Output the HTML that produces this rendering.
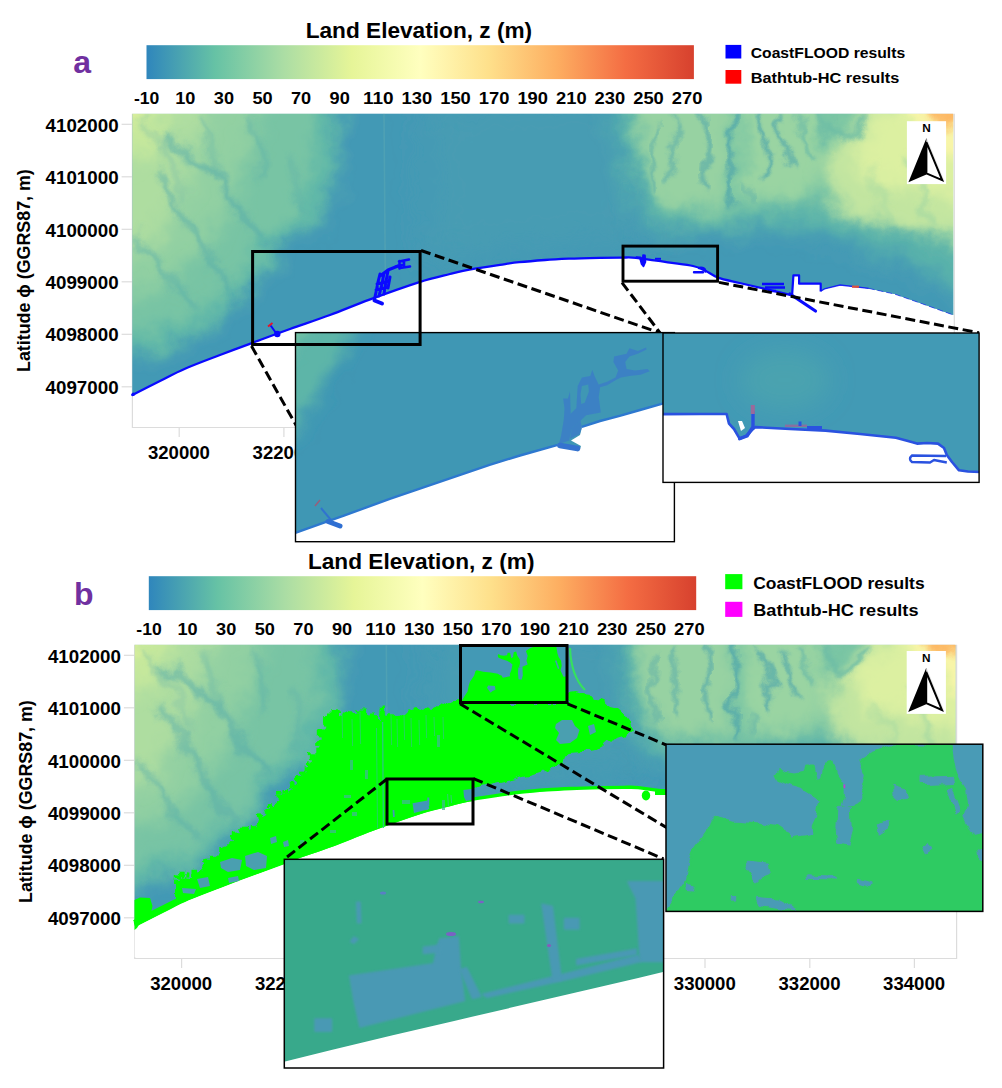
<!DOCTYPE html>
<html><head><meta charset="utf-8"><title>Figure</title>
<style>html,body{margin:0;padding:0;background:#fff;}body{width:1002px;height:1088px;overflow:hidden;font-family:"Liberation Sans",sans-serif;}svg{display:block;position:absolute;left:0;top:0;}</style>
</head><body>
<svg width="1002" height="1088" viewBox="0 0 1002 1088">
<defs>
<linearGradient id="cbar" x1="0" x2="1" y1="0" y2="0"><stop offset="0.0000" stop-color="#2f86bc"/><stop offset="0.1250" stop-color="#66c2a5"/><stop offset="0.2500" stop-color="#abdda4"/><stop offset="0.3750" stop-color="#e6f598"/><stop offset="0.5000" stop-color="#ffffbf"/><stop offset="0.6250" stop-color="#fee08b"/><stop offset="0.7500" stop-color="#fdae61"/><stop offset="0.8750" stop-color="#f46d43"/><stop offset="1.0000" stop-color="#d7412e"/></linearGradient>
<filter id="b1" x="-50%" y="-50%" width="200%" height="200%"><feGaussianBlur stdDeviation="1"/></filter>
<filter id="b2" x="-50%" y="-50%" width="200%" height="200%"><feGaussianBlur stdDeviation="2"/></filter>
<filter id="b3" x="-50%" y="-50%" width="200%" height="200%"><feGaussianBlur stdDeviation="3"/></filter>
<filter id="b4" x="-50%" y="-50%" width="200%" height="200%"><feGaussianBlur stdDeviation="4"/></filter>
<filter id="b5" x="-50%" y="-50%" width="200%" height="200%"><feGaussianBlur stdDeviation="5"/></filter>
<filter id="b6" x="-50%" y="-50%" width="200%" height="200%"><feGaussianBlur stdDeviation="6"/></filter>
<filter id="b7" x="-50%" y="-50%" width="200%" height="200%"><feGaussianBlur stdDeviation="7"/></filter>
<filter id="b8" x="-50%" y="-50%" width="200%" height="200%"><feGaussianBlur stdDeviation="8"/></filter>
<filter id="b9" x="-50%" y="-50%" width="200%" height="200%"><feGaussianBlur stdDeviation="9"/></filter>
<filter id="b10" x="-50%" y="-50%" width="200%" height="200%"><feGaussianBlur stdDeviation="10"/></filter>
<filter id="b12" x="-50%" y="-50%" width="200%" height="200%"><feGaussianBlur stdDeviation="12"/></filter>
<filter id="b14" x="-50%" y="-50%" width="200%" height="200%"><feGaussianBlur stdDeviation="14"/></filter>
<filter id="b16" x="-50%" y="-50%" width="200%" height="200%"><feGaussianBlur stdDeviation="16"/></filter>
</defs>
<rect width="1002" height="1088" fill="#fff"/>
<text x="418.9" y="38.4" font-family="Liberation Sans, sans-serif" font-weight="bold" font-size="21.5" text-anchor="middle" textLength="226.5" lengthAdjust="spacingAndGlyphs">Land Elevation, z (m)</text>
<text x="73.2" y="72.6" font-family="Liberation Sans, sans-serif" font-weight="bold" font-size="32" fill="#7030a0">a</text>
<rect x="146.5" y="45.2" width="547.4" height="33.9" fill="url(#cbar)"/>
<text x="146.7" y="103.7" font-family="Liberation Sans, sans-serif" font-weight="bold" font-size="17" text-anchor="middle" textLength="25.4" lengthAdjust="spacingAndGlyphs">-10</text>
<text x="185.3" y="103.7" font-family="Liberation Sans, sans-serif" font-weight="bold" font-size="17" text-anchor="middle" textLength="20.2" lengthAdjust="spacingAndGlyphs">10</text>
<text x="223.9" y="103.7" font-family="Liberation Sans, sans-serif" font-weight="bold" font-size="17" text-anchor="middle" textLength="20.2" lengthAdjust="spacingAndGlyphs">30</text>
<text x="262.5" y="103.7" font-family="Liberation Sans, sans-serif" font-weight="bold" font-size="17" text-anchor="middle" textLength="20.2" lengthAdjust="spacingAndGlyphs">50</text>
<text x="301.1" y="103.7" font-family="Liberation Sans, sans-serif" font-weight="bold" font-size="17" text-anchor="middle" textLength="20.2" lengthAdjust="spacingAndGlyphs">70</text>
<text x="339.7" y="103.7" font-family="Liberation Sans, sans-serif" font-weight="bold" font-size="17" text-anchor="middle" textLength="20.2" lengthAdjust="spacingAndGlyphs">90</text>
<text x="378.3" y="103.7" font-family="Liberation Sans, sans-serif" font-weight="bold" font-size="17" text-anchor="middle" textLength="30.6" lengthAdjust="spacingAndGlyphs">110</text>
<text x="416.9" y="103.7" font-family="Liberation Sans, sans-serif" font-weight="bold" font-size="17" text-anchor="middle" textLength="30.6" lengthAdjust="spacingAndGlyphs">130</text>
<text x="455.5" y="103.7" font-family="Liberation Sans, sans-serif" font-weight="bold" font-size="17" text-anchor="middle" textLength="30.6" lengthAdjust="spacingAndGlyphs">150</text>
<text x="494.1" y="103.7" font-family="Liberation Sans, sans-serif" font-weight="bold" font-size="17" text-anchor="middle" textLength="30.6" lengthAdjust="spacingAndGlyphs">170</text>
<text x="532.7" y="103.7" font-family="Liberation Sans, sans-serif" font-weight="bold" font-size="17" text-anchor="middle" textLength="30.6" lengthAdjust="spacingAndGlyphs">190</text>
<text x="571.3" y="103.7" font-family="Liberation Sans, sans-serif" font-weight="bold" font-size="17" text-anchor="middle" textLength="30.6" lengthAdjust="spacingAndGlyphs">210</text>
<text x="609.9" y="103.7" font-family="Liberation Sans, sans-serif" font-weight="bold" font-size="17" text-anchor="middle" textLength="30.6" lengthAdjust="spacingAndGlyphs">230</text>
<text x="648.5" y="103.7" font-family="Liberation Sans, sans-serif" font-weight="bold" font-size="17" text-anchor="middle" textLength="30.6" lengthAdjust="spacingAndGlyphs">250</text>
<text x="687.1" y="103.7" font-family="Liberation Sans, sans-serif" font-weight="bold" font-size="17" text-anchor="middle" textLength="30.6" lengthAdjust="spacingAndGlyphs">270</text>
<path d="M132.4,113.7 V427.5 H954.3 V113.7" fill="none" stroke="#dcdcdc" stroke-width="1.2"/>
<line x1="121.6" x2="132.4" y1="124.3" y2="124.3" stroke="#dcdcdc" stroke-width="1.2"/>
<text x="118.6" y="132.0" font-family="Liberation Sans, sans-serif" font-weight="bold" font-size="17.8" text-anchor="end" textLength="73" lengthAdjust="spacingAndGlyphs">4102000</text>
<line x1="121.6" x2="132.4" y1="176.8" y2="176.8" stroke="#dcdcdc" stroke-width="1.2"/>
<text x="118.6" y="184.3" font-family="Liberation Sans, sans-serif" font-weight="bold" font-size="17.8" text-anchor="end" textLength="73" lengthAdjust="spacingAndGlyphs">4101000</text>
<line x1="121.6" x2="132.4" y1="229.3" y2="229.3" stroke="#dcdcdc" stroke-width="1.2"/>
<text x="118.6" y="236.7" font-family="Liberation Sans, sans-serif" font-weight="bold" font-size="17.8" text-anchor="end" textLength="73" lengthAdjust="spacingAndGlyphs">4100000</text>
<line x1="121.6" x2="132.4" y1="281.8" y2="281.8" stroke="#dcdcdc" stroke-width="1.2"/>
<text x="118.6" y="289.1" font-family="Liberation Sans, sans-serif" font-weight="bold" font-size="17.8" text-anchor="end" textLength="73" lengthAdjust="spacingAndGlyphs">4099000</text>
<line x1="121.6" x2="132.4" y1="334.3" y2="334.3" stroke="#dcdcdc" stroke-width="1.2"/>
<text x="118.6" y="341.4" font-family="Liberation Sans, sans-serif" font-weight="bold" font-size="17.8" text-anchor="end" textLength="73" lengthAdjust="spacingAndGlyphs">4098000</text>
<line x1="121.6" x2="132.4" y1="386.8" y2="386.8" stroke="#dcdcdc" stroke-width="1.2"/>
<text x="118.6" y="393.8" font-family="Liberation Sans, sans-serif" font-weight="bold" font-size="17.8" text-anchor="end" textLength="73" lengthAdjust="spacingAndGlyphs">4097000</text>
<line x1="179.2" x2="179.2" y1="427.5" y2="437.0" stroke="#dcdcdc" stroke-width="1.2"/>
<text x="178.9" y="459.3" font-family="Liberation Sans, sans-serif" font-weight="bold" font-size="17.8" text-anchor="middle" textLength="62" lengthAdjust="spacingAndGlyphs">320000</text>
<line x1="283.9" x2="283.9" y1="427.5" y2="437.0" stroke="#dcdcdc" stroke-width="1.2"/>
<text x="283.6" y="459.3" font-family="Liberation Sans, sans-serif" font-weight="bold" font-size="17.8" text-anchor="middle" textLength="62" lengthAdjust="spacingAndGlyphs">322000</text>
<line x1="388.6" x2="388.6" y1="427.5" y2="437.0" stroke="#dcdcdc" stroke-width="1.2"/>
<line x1="493.4" x2="493.4" y1="427.5" y2="437.0" stroke="#dcdcdc" stroke-width="1.2"/>
<line x1="598.0" x2="598.0" y1="427.5" y2="437.0" stroke="#dcdcdc" stroke-width="1.2"/>
<line x1="702.8" x2="702.8" y1="427.5" y2="437.0" stroke="#dcdcdc" stroke-width="1.2"/>
<line x1="807.5" x2="807.5" y1="427.5" y2="437.0" stroke="#dcdcdc" stroke-width="1.2"/>
<line x1="912.1" x2="912.1" y1="427.5" y2="437.0" stroke="#dcdcdc" stroke-width="1.2"/>
<text transform="translate(29.8,270.6) rotate(-90)" font-family="Liberation Sans, sans-serif" font-weight="bold" font-size="18.5" text-anchor="middle" textLength="202.8" lengthAdjust="spacingAndGlyphs">Latitude ϕ (GGRS87, m)</text>
<clipPath id="landa"><polygon points="132.4,113.7 953.3,113.7 953.3,315.0 920.6,303.2 894.6,294.1 868.7,288.4 840.1,285.0 824.5,288.9 820.7,291.5 820.7,283.7 799.1,283.7 799.1,275.4 793.4,275.4 792.1,295.4 764.9,288.9 739.6,283.0 718.0,277.6 705.0,270.5 693.0,266.0 667.8,262.3 636.0,257.8 621.0,257.6 600.0,257.8 569.0,258.7 545.0,260.0 519.2,262.2 500.0,264.8 469.3,269.6 450.0,274.0 419.4,282.1 369.5,299.6 330.0,315.0 290.0,329.0 252.5,342.8 220.0,355.0 185.0,368.7 160.0,381.0 132.4,395.0"/></clipPath>
<filter id="dispa" filterUnits="userSpaceOnUse" x="92.4" y="73.7" width="900.9" height="400"><feTurbulence type="fractalNoise" baseFrequency="0.035" numOctaves="4" seed="5" result="n"/><feDisplacementMap in="SourceGraphic" in2="n" scale="26" xChannelSelector="R" yChannelSelector="G"/></filter>
<g clip-path="url(#landa)">
<rect x="132.4" y="113.7" width="820.9" height="320" fill="#4399b5"/>
<g filter="url(#dispa)">
<rect x="92.4" y="73.7" width="900.9" height="400" fill="#4399b5"/>
<polygon points="430.0,100.0 640.0,100.0 640.0,240.0 520.0,250.0 430.0,260.0" fill="#479cb3" fill-opacity="1" filter="url(#b16)"/>
<polygon points="100.0,90.0 340.0,90.0 336.0,190.0 314.0,228.0 278.0,247.0 271.0,267.0 243.0,293.0 219.0,322.0 175.0,346.0 100.0,366.0" fill="#60b8a8" fill-opacity="1" filter="url(#b8)"/>
<polygon points="100.0,90.0 318.0,90.0 312.0,180.0 290.0,222.0 262.0,240.0 255.0,262.0 228.0,288.0 200.0,312.0 160.0,330.0 100.0,338.0" fill="#78c4a4" fill-opacity="1" filter="url(#b8)"/>
<polygon points="100.0,90.0 262.0,90.0 250.0,150.0 232.0,200.0 212.0,235.0 190.0,265.0 160.0,285.0 100.0,300.0" fill="#92d0a2" fill-opacity="1" filter="url(#b10)"/>
<polygon points="100.0,90.0 215.0,90.0 198.0,150.0 180.0,205.0 150.0,245.0 100.0,262.0" fill="#aedda0" fill-opacity="1" filter="url(#b10)"/>
<polygon points="100.0,90.0 180.0,90.0 156.0,145.0 100.0,185.0" fill="#c6e89c" fill-opacity="1" filter="url(#b8)"/>
<polygon points="120.0,100.0 150.0,100.0 136.0,124.0 120.0,135.0" fill="#d8ee9c" fill-opacity="1" filter="url(#b5)"/>
<path d="M163.0,136.0 C167.5,139.7 181.3,152.0 190.0,158.0 C198.7,164.0 208.5,165.3 215.0,172.0 C221.5,178.7 224.2,190.2 229.0,198.0 C233.8,205.8 237.8,212.0 244.0,219.0 C250.2,226.0 262.3,236.5 266.0,240.0" fill="none" stroke="#55aaab" stroke-opacity="0.675" stroke-width="7" stroke-linecap="round" filter="url(#b3)"/>
<path d="M156.0,172.0 C160.3,179.0 173.3,200.2 182.0,214.0 C190.7,227.8 200.2,242.0 208.0,255.0 C215.8,268.0 225.5,285.8 229.0,292.0" fill="none" stroke="#55aaab" stroke-opacity="0.675" stroke-width="6" stroke-linecap="round" filter="url(#b3)"/>
<path d="M138.0,234.0 C142.3,240.2 154.5,258.8 164.0,271.0 C173.5,283.2 189.8,301.0 195.0,307.0" fill="none" stroke="#55aaab" stroke-opacity="0.675" stroke-width="5" stroke-linecap="round" filter="url(#b3)"/>
<path d="M250.0,120.0 C252.0,125.0 260.0,140.3 262.0,150.0 C264.0,159.7 262.0,173.3 262.0,178.0" fill="none" stroke="#55aaab" stroke-opacity="0.45" stroke-width="6" stroke-linecap="round" filter="url(#b3)"/>
<path d="M200.0,120.0 C202.3,125.0 210.3,140.8 214.0,150.0 C217.7,159.2 220.7,170.8 222.0,175.0" fill="none" stroke="#55aaab" stroke-opacity="0.45" stroke-width="5" stroke-linecap="round" filter="url(#b3)"/>
<path d="M290.0,160.0 C291.7,165.0 299.0,180.8 300.0,190.0 C301.0,199.2 296.7,210.8 296.0,215.0" fill="none" stroke="#55aaab" stroke-opacity="0.405" stroke-width="6" stroke-linecap="round" filter="url(#b3)"/>
<path d="M146.0,120.0 C150.0,126.7 163.3,146.7 170.0,160.0 C176.7,173.3 183.3,193.3 186.0,200.0" fill="none" stroke="#55aaab" stroke-opacity="0.36000000000000004" stroke-width="5" stroke-linecap="round" filter="url(#b3)"/>
<polygon points="612.0,90.0 990.0,90.0 990.0,302.0 953.0,287.0 890.0,256.0 820.0,233.0 745.0,231.0 690.0,233.0 642.0,226.0 626.0,180.0 616.0,130.0" fill="#5ab2aa" fill-opacity="1" filter="url(#b10)"/>
<polygon points="630.0,90.0 990.0,90.0 990.0,262.0 940.0,236.0 880.0,222.0 830.0,208.0 790.0,206.0 755.0,214.0 710.0,220.0 660.0,210.0 640.0,170.0" fill="#79c5a4" fill-opacity="1" filter="url(#b9)"/>
<polygon points="636.0,95.0 730.0,95.0 731.0,200.0 690.0,209.0 652.0,196.0 638.0,150.0" fill="#97d2a2" fill-opacity="1" filter="url(#b7)"/>
<polygon points="741.0,95.0 816.0,95.0 823.0,150.0 815.0,190.0 780.0,201.0 746.0,196.0" fill="#9ad4a2" fill-opacity="1" filter="url(#b7)"/>
<polygon points="822.0,160.0 850.0,128.0 872.0,95.0 990.0,95.0 990.0,245.0 950.0,234.0 900.0,228.0 850.0,215.0 826.0,192.0" fill="#c2e5a0" fill-opacity="1" filter="url(#b8)"/>
<polygon points="852.0,150.0 880.0,118.0 898.0,95.0 990.0,95.0 990.0,222.0 950.0,198.0 900.0,186.0 862.0,176.0" fill="#dcf0a1" fill-opacity="1" filter="url(#b8)"/>
<polygon points="896.0,95.0 990.0,95.0 990.0,175.0 942.0,152.0 916.0,126.0" fill="#f8f5a8" fill-opacity="1" filter="url(#b6)"/>
<polygon points="915.0,98.0 990.0,98.0 990.0,132.0 958.0,128.0 935.0,120.0" fill="#fdb863" fill-opacity="1" filter="url(#b5)"/>
<path d="M735.8,114.0 C735.3,118.2 734.0,131.0 733.0,139.0 C732.0,147.0 729.5,154.8 730.0,162.0 C730.5,169.2 735.3,174.7 735.8,182.0 C736.3,189.3 733.5,202.0 733.0,206.0" fill="none" stroke="#4fa6ab" stroke-opacity="1" stroke-width="4.5" stroke-linecap="round" filter="url(#b2)"/>
<path d="M756.0,116.0 C757.5,120.8 762.3,137.5 764.7,144.7 C767.1,151.9 770.5,153.4 770.5,159.0 C770.5,164.6 765.7,174.8 764.7,178.0" fill="none" stroke="#4fa6ab" stroke-opacity="1" stroke-width="4" stroke-linecap="round" filter="url(#b2)"/>
<path d="M782.0,116.0 C782.5,121.3 783.0,139.3 785.0,147.6 C787.0,155.9 792.2,162.9 793.7,166.0" fill="none" stroke="#4fa6ab" stroke-opacity="1" stroke-width="3.6" stroke-linecap="round" filter="url(#b2)"/>
<path d="M705.0,114.0 C705.5,118.3 708.3,131.5 708.0,140.0 C707.7,148.5 703.0,156.7 703.0,165.0 C703.0,173.3 707.2,185.8 708.0,190.0" fill="none" stroke="#4fa6ab" stroke-opacity="0.9900000000000001" stroke-width="3.4" stroke-linecap="round" filter="url(#b2)"/>
<path d="M672.0,118.0 C672.7,123.3 676.3,139.7 676.0,150.0 C675.7,160.3 671.0,175.0 670.0,180.0" fill="none" stroke="#4fa6ab" stroke-opacity="0.81" stroke-width="3.4" stroke-linecap="round" filter="url(#b2)"/>
<path d="M655.0,125.0 C654.2,130.8 650.0,149.2 650.0,160.0 C650.0,170.8 654.2,185.0 655.0,190.0" fill="none" stroke="#4fa6ab" stroke-opacity="0.7200000000000001" stroke-width="3.4" stroke-linecap="round" filter="url(#b2)"/>
<path d="M819.7,112.0 C821.2,115.5 825.0,128.0 828.4,133.0 C831.8,138.0 836.1,141.3 840.0,141.8 C843.9,142.3 847.2,140.0 851.5,136.0 C855.8,132.0 863.6,121.0 866.0,118.0" fill="none" stroke="#6cbca6" stroke-opacity="1" stroke-width="7" stroke-linecap="round" filter="url(#b3)"/>
<path d="M800.0,114.0 C801.0,118.0 803.5,131.0 806.0,138.0 C808.5,145.0 813.5,153.0 815.0,156.0" fill="none" stroke="#66b8a7" stroke-opacity="0.9" stroke-width="4" stroke-linecap="round" filter="url(#b2)"/>
<path d="M905.0,160.0 C907.8,165.0 917.5,179.7 922.0,190.0 C926.5,200.3 930.3,216.7 932.0,222.0" fill="none" stroke="#9ad4a2" stroke-opacity="0.81" stroke-width="5" stroke-linecap="round" filter="url(#b3)"/>
<path d="M870.0,170.0 C872.5,175.0 881.7,190.8 885.0,200.0 C888.3,209.2 889.2,220.8 890.0,225.0" fill="none" stroke="#9ad4a2" stroke-opacity="0.63" stroke-width="4" stroke-linecap="round" filter="url(#b3)"/>
<path d="M748.0,180.0 C748.7,183.3 751.3,196.7 752.0,200.0" fill="none" stroke="#4fa6ab" stroke-opacity="0.63" stroke-width="3" stroke-linecap="round" filter="url(#b2)"/>
</g>
<line x1="384.0" x2="385.5" y1="113.7" y2="300.0" stroke="#55a4b4" stroke-width="1.6" opacity="0.7"/>
</g>
<path d="M132.4,395.0 C137.0,392.7 151.2,385.4 160.0,381.0 C168.8,376.6 175.0,373.0 185.0,368.7 C195.0,364.4 208.8,359.3 220.0,355.0 C231.2,350.7 240.8,347.1 252.5,342.8 C264.2,338.5 277.1,333.6 290.0,329.0 C302.9,324.4 316.8,319.9 330.0,315.0 C343.2,310.1 354.6,305.1 369.5,299.6 C384.4,294.1 406.0,286.4 419.4,282.1 C432.8,277.8 441.7,276.1 450.0,274.0 C458.3,271.9 461.0,271.1 469.3,269.6 C477.6,268.1 491.7,266.0 500.0,264.8 C508.3,263.6 511.7,263.0 519.2,262.2 C526.7,261.4 536.7,260.6 545.0,260.0 C553.3,259.4 559.8,259.1 569.0,258.7 C578.2,258.3 591.3,258.0 600.0,257.8 C608.7,257.6 615.0,257.6 621.0,257.6 C627.0,257.6 628.2,257.0 636.0,257.8 C643.8,258.6 658.3,260.9 667.8,262.3 C677.3,263.7 686.8,264.6 693.0,266.0 C699.2,267.4 700.8,268.6 705.0,270.5 C709.2,272.4 712.2,275.5 718.0,277.6 C723.8,279.7 731.8,281.1 739.6,283.0 C747.4,284.9 756.1,286.8 764.9,288.9 C773.6,291.0 787.6,294.3 792.1,295.4" fill="none" stroke="#0a0aff" stroke-width="2.3" stroke-linecap="round"/>
<circle cx="133.3" cy="394.3" r="1.8" fill="#0a0aff"/>
<path d="M792.1,295.4 L793.4,275.4 L799.1,275.4 L799.1,283.7 L820.7,283.7 L820.7,291.5" fill="none" stroke="#0a0aff" stroke-width="2.2" stroke-linejoin="round"/>
<path d="M790,294 L815.5,311" fill="none" stroke="#0a0aff" stroke-width="3.2" stroke-linecap="round"/>
<path d="M762,284 h22 M765,287.5 h20 M768,291 h8" fill="none" stroke="#0a0aff" stroke-width="2.4"/>
<path d="M821,291 L824.5,288.9 L840.1,285 L868.7,288.4" fill="none" stroke="#0a0aff" stroke-width="1.3" opacity="0.85"/>
<path d="M868.7,288.4 L894.6,294.1 L920.6,303.2 L953.3,315" fill="none" stroke="#0a0aff" stroke-width="1" opacity="0.55" stroke-dasharray="6,3"/>
<rect x="852" y="285.6" width="7" height="2.2" fill="#e0503a"/>
<path d="M374.5,299 L376.5,290 L378,282 L380,274 M379,296 L382,284 L384,273 M384,294 L386,281 L388,271 M388,288 L390,277 M380,276 L388,270 L393,268 L398,266 M376,290 L388,287 M377,284 L389,281" fill="none" stroke="#0a0aff" stroke-width="3" stroke-linecap="round" stroke-linejoin="round"/>
<path d="M396,266.5 L402,265 M399,261.5 L409,259.5 M400,268 L410,266.5 M399.5,261 V268.5 M404,261 V267" fill="none" stroke="#0a0aff" stroke-width="2.6" stroke-linecap="round" stroke-linejoin="round"/>
<path d="M374.5,300.5 L382,303.5" fill="none" stroke="#0a0aff" stroke-width="4" stroke-linecap="round"/>
<path d="M271,326 L276,333" fill="none" stroke="#0a0aff" stroke-width="2" stroke-linecap="round"/>
<circle cx="277.3" cy="334" r="3.2" fill="#0a0aff"/>
<path d="M268,326.5 L272.5,323" fill="none" stroke="#e8102a" stroke-width="1.8"/>
<path d="M636.5,257 L640,258.5 L641.5,264 L643.5,266.5 L645.5,262 L645,255.2 L643,255 L642.6,259.5 L640.5,257.2 Z" fill="#0a0aff" stroke="#0a0aff" stroke-width="1.6" stroke-linejoin="round"/>
<path d="M694,272.2 H703 M699,268 Q705,267 705.5,271.5" fill="none" stroke="#0a0aff" stroke-width="2.4" stroke-linecap="round"/>
<path d="M655,258.8 h6" fill="none" stroke="#0a0aff" stroke-width="2"/>
<path d="M421,250.5 L660,332.8" stroke="#000" stroke-width="3" stroke-dasharray="10,4.6" fill="none"/>
<path d="M251.5,346 L340,503.5" stroke="#000" stroke-width="3" stroke-dasharray="10,4.6" fill="none"/>
<path d="M622,282.6 L660,332.8" stroke="#000" stroke-width="3" stroke-dasharray="10,4.6" fill="none"/>
<path d="M719,282.4 L979,332.8" stroke="#000" stroke-width="3" stroke-dasharray="10,4.6" fill="none"/>
<clipPath id="ci1"><rect x="295.5" y="332.6" width="378.9" height="209.1"/></clipPath>
<g clip-path="url(#ci1)">
<rect x="295.5" y="332.6" width="378.9" height="209.1" fill="#3f97b4"/>
<filter id="dispi1" filterUnits="userSpaceOnUse" x="280" y="320" width="140" height="160"><feTurbulence type="fractalNoise" baseFrequency="0.03" numOctaves="3" seed="3" result="n"/><feDisplacementMap in="SourceGraphic" in2="n" scale="22" xChannelSelector="R" yChannelSelector="G"/></filter>
<g filter="url(#dispi1)"><rect x="270" y="310" width="160" height="180" fill="#3f97b4"/>
<polygon points="280,320 362,320 338,362 316,398 298,430 280,446" fill="#5db5a8" filter="url(#b8)"/>
<polygon points="285,325 312,325 296,355 285,366" fill="#72c2a4" filter="url(#b5)"/>
</g>
<polygon points="290.0,535.0 296.0,532.7 324.0,522.7 343.9,515.7 389.8,498.8 439.7,481.8 489.6,464.8 520.0,455.5 557.8,444.8 566.0,447.0 579.8,449.5 581.0,446.0 571.0,440.5 580.0,435.0 581.8,428.0 581.8,426.8 600.0,421.0 619.7,415.8 640.0,410.0 661.6,403.8 680.0,398.0 680.0,545.0 290.0,545.0" fill="#fff"/>
<path d="M563.1,398.5 L567.9,398.5 L570.0,391.5 L570.7,413.8 L576.3,408.2 L577.7,385.9 L581.9,377.5 L590.3,376.1 L592.4,369.8 L594.5,376.1 L598.7,384.5 L607.1,381.7 L615.5,377.5 L618.2,370.5 L613.4,362.1 L614.1,356.5 L626.6,353.8 L629.4,348.2 L637.8,351.0 L646.2,347.5 L646.5,349.6 L637.8,353.8 L629.4,356.5 L625.2,362.1 L626.6,369.1 L635.0,370.5 L647.6,369.1 L649.7,371.2 L640.6,374.7 L629.4,376.1 L621.0,377.5 L616.8,379.6 L607.1,385.2 L600.1,387.3 L598.7,397.1 L600.8,412.4 L586.1,415.2 L580.5,420.8 L572.1,427.8 L570.0,436.2 L569.3,440.4 L558.9,443.9 L561.0,436.2 L563.8,419.4 L564.5,408.2 Z M581.9,385.9 L588.2,384.5 L588.9,391.5 L584.7,402.7 L581.2,404.1 L580.5,394.3 Z" fill-rule="evenodd" fill="#3a74cf" fill-opacity="0.62"/>
<path d="M572.1,427.8 L580.5,420.8 L581.9,427.8 L579.8,434.1 L570.0,438.7 Z" fill="#3a74cf" fill-opacity="0.62"/>
<path d="M290.0,535.0 L296.0,532.7 L324.0,522.7 L343.9,515.7 L389.8,498.8 L439.7,481.8 L489.6,464.8 L520.0,455.5 L557.8,444.8" fill="none" stroke="#2d78cf" stroke-width="2.4"/>
<path d="M581.8,426.8 L600.0,421.0 L619.7,415.8 L640.0,410.0 L661.6,403.8 L680.0,398.0" fill="none" stroke="#2d78cf" stroke-width="2.4"/>
<path d="M560,445.5 L577.5,448.6" fill="none" stroke="#3573cf" stroke-width="5.6" stroke-linecap="round"/>
<path d="M328,521.5 L340,526" fill="none" stroke="#2f6fd2" stroke-width="5" stroke-linecap="round"/>
<path d="M321,508 L331,520" fill="none" stroke="#2f6fd2" stroke-width="2" opacity="0.9"/>
<path d="M315,506 L320,500" fill="none" stroke="#b0506a" stroke-width="1.5" opacity="0.8"/>
</g>
<rect x="295.5" y="332.6" width="378.9" height="209.1" fill="none" stroke="#000" stroke-width="1.4"/>
<clipPath id="ci2"><rect x="663" y="333" width="316.1" height="149.4"/></clipPath>
<g clip-path="url(#ci2)">
<rect x="663" y="333" width="316.1" height="149.4" fill="#429ab5"/>
<ellipse cx="785" cy="380" rx="45" ry="30" fill="#4fa8ac" fill-opacity="0.6" filter="url(#b12)"/>
<polygon points="660.0,414.1 700.0,414.0 726.6,414.0 729.0,423.6 734.0,429.0 739.6,438.7 746.0,436.0 752.0,430.0 755.4,427.1 790.0,429.0 825.6,430.6 860.0,434.0 895.9,437.7 908.0,441.0 917.0,443.6 927.0,443.0 938.0,443.6 944.0,448.0 946.8,455.0 952.0,462.0 959.0,470.3 968.0,471.5 982.0,472.0 982.0,490.0 660.0,490.0" fill="#fff"/>
<path d="M660.0,414.1 L700.0,414.0 L726.6,414.0 L729.0,423.6 L734.0,429.0 L739.6,438.7 L746.0,436.0 L752.0,430.0 L755.4,427.1 L790.0,429.0 L825.6,430.6 L860.0,434.0 L895.9,437.7 L908.0,441.0 L917.0,443.6 L927.0,443.0 L938.0,443.6 L944.0,448.0 L946.8,455.0 L952.0,462.0 L959.0,470.3 L968.0,471.5 L982.0,472.0" fill="none" stroke="#2a52e0" stroke-width="2.6" stroke-linejoin="round"/>
<path d="M946,456 L912,455.5 Q908,459 912,462 L930,462.5 L934,460 L946.8,462.5" fill="#fff" stroke="#2a52e0" stroke-width="2.4" stroke-linejoin="round"/>
<path d="M739.6,438.7 L747,436 L753,427 L753,412" fill="none" stroke="#2a52e0" stroke-width="3.4" stroke-linecap="round" stroke-linejoin="round"/>
<path d="M738,421 L742,421 L745,428 L741,431 Z" fill="#fff"/>
<rect x="750.8" y="405" width="4" height="9" fill="#9a6a9a"/>
<rect x="785" y="424.6" width="22" height="2.4" fill="#8a6f9f"/>
<path d="M800,426 V421.5 M807,427.5 H822" fill="none" stroke="#2a52e0" stroke-width="3"/>
</g>
<rect x="663" y="333" width="316.1" height="149.4" fill="none" stroke="#000" stroke-width="1.4"/>
<rect x="252.6" y="251.5" width="167.5" height="93" fill="none" stroke="#000" stroke-width="3"/>
<rect x="623" y="246.1" width="94.6" height="35.1" fill="none" stroke="#000" stroke-width="2.9"/>
<rect x="725.5" y="44.9" width="15.8" height="13.6" fill="#0000ff"/>
<rect x="725.5" y="70" width="15.8" height="13.7" fill="#ff0000"/>
<text x="750.7" y="58.4" font-family="Liberation Sans, sans-serif" font-weight="bold" font-size="15" textLength="154.5" lengthAdjust="spacingAndGlyphs">CoastFLOOD results</text>
<text x="750.7" y="82.6" font-family="Liberation Sans, sans-serif" font-weight="bold" font-size="15" textLength="148.7" lengthAdjust="spacingAndGlyphs">Bathtub-HC results</text>
<rect x="906.9" y="121.2" width="39.2" height="62.9" fill="#fff"/>
<text x="926.4" y="131.7" font-family="Liberation Sans, sans-serif" font-weight="bold" font-size="11.8" text-anchor="middle">N</text>
<polygon points="926.4,138.2 908.4,182.2 926.4,174.4" fill="#000"/>
<polygon points="926.4,142.2 942.2,180.2 926.4,173.4" fill="#fff" stroke="#000" stroke-width="2" stroke-linejoin="miter"/>
<polygon points="926.4,138.2 944.1,181.3 926.4,173.4" fill="none" stroke="#000" stroke-width="0.1"/>
<text x="421.2" y="569.4" font-family="Liberation Sans, sans-serif" font-weight="bold" font-size="21.5" text-anchor="middle" textLength="226.5" lengthAdjust="spacingAndGlyphs">Land Elevation, z (m)</text>
<text x="73.9" y="604.5" font-family="Liberation Sans, sans-serif" font-weight="bold" font-size="32" fill="#7030a0">b</text>
<rect x="148.8" y="576.2" width="547.4" height="33.9" fill="url(#cbar)"/>
<text x="149.0" y="634.7" font-family="Liberation Sans, sans-serif" font-weight="bold" font-size="17" text-anchor="middle" textLength="25.4" lengthAdjust="spacingAndGlyphs">-10</text>
<text x="187.6" y="634.7" font-family="Liberation Sans, sans-serif" font-weight="bold" font-size="17" text-anchor="middle" textLength="20.2" lengthAdjust="spacingAndGlyphs">10</text>
<text x="226.2" y="634.7" font-family="Liberation Sans, sans-serif" font-weight="bold" font-size="17" text-anchor="middle" textLength="20.2" lengthAdjust="spacingAndGlyphs">30</text>
<text x="264.8" y="634.7" font-family="Liberation Sans, sans-serif" font-weight="bold" font-size="17" text-anchor="middle" textLength="20.2" lengthAdjust="spacingAndGlyphs">50</text>
<text x="303.4" y="634.7" font-family="Liberation Sans, sans-serif" font-weight="bold" font-size="17" text-anchor="middle" textLength="20.2" lengthAdjust="spacingAndGlyphs">70</text>
<text x="342.0" y="634.7" font-family="Liberation Sans, sans-serif" font-weight="bold" font-size="17" text-anchor="middle" textLength="20.2" lengthAdjust="spacingAndGlyphs">90</text>
<text x="380.6" y="634.7" font-family="Liberation Sans, sans-serif" font-weight="bold" font-size="17" text-anchor="middle" textLength="30.6" lengthAdjust="spacingAndGlyphs">110</text>
<text x="419.2" y="634.7" font-family="Liberation Sans, sans-serif" font-weight="bold" font-size="17" text-anchor="middle" textLength="30.6" lengthAdjust="spacingAndGlyphs">130</text>
<text x="457.8" y="634.7" font-family="Liberation Sans, sans-serif" font-weight="bold" font-size="17" text-anchor="middle" textLength="30.6" lengthAdjust="spacingAndGlyphs">150</text>
<text x="496.4" y="634.7" font-family="Liberation Sans, sans-serif" font-weight="bold" font-size="17" text-anchor="middle" textLength="30.6" lengthAdjust="spacingAndGlyphs">170</text>
<text x="535.0" y="634.7" font-family="Liberation Sans, sans-serif" font-weight="bold" font-size="17" text-anchor="middle" textLength="30.6" lengthAdjust="spacingAndGlyphs">190</text>
<text x="573.6" y="634.7" font-family="Liberation Sans, sans-serif" font-weight="bold" font-size="17" text-anchor="middle" textLength="30.6" lengthAdjust="spacingAndGlyphs">210</text>
<text x="612.2" y="634.7" font-family="Liberation Sans, sans-serif" font-weight="bold" font-size="17" text-anchor="middle" textLength="30.6" lengthAdjust="spacingAndGlyphs">230</text>
<text x="650.8" y="634.7" font-family="Liberation Sans, sans-serif" font-weight="bold" font-size="17" text-anchor="middle" textLength="30.6" lengthAdjust="spacingAndGlyphs">250</text>
<text x="689.4" y="634.7" font-family="Liberation Sans, sans-serif" font-weight="bold" font-size="17" text-anchor="middle" textLength="30.6" lengthAdjust="spacingAndGlyphs">270</text>
<path d="M134.7,644.7 V958.5 H956.6 V644.7" fill="none" stroke="#dcdcdc" stroke-width="1.2"/>
<line x1="123.9" x2="134.7" y1="655.3" y2="655.3" stroke="#dcdcdc" stroke-width="1.2"/>
<text x="120.9" y="663.0" font-family="Liberation Sans, sans-serif" font-weight="bold" font-size="17.8" text-anchor="end" textLength="73" lengthAdjust="spacingAndGlyphs">4102000</text>
<line x1="123.9" x2="134.7" y1="707.8" y2="707.8" stroke="#dcdcdc" stroke-width="1.2"/>
<text x="120.9" y="715.4" font-family="Liberation Sans, sans-serif" font-weight="bold" font-size="17.8" text-anchor="end" textLength="73" lengthAdjust="spacingAndGlyphs">4101000</text>
<line x1="123.9" x2="134.7" y1="760.3" y2="760.3" stroke="#dcdcdc" stroke-width="1.2"/>
<text x="120.9" y="767.7" font-family="Liberation Sans, sans-serif" font-weight="bold" font-size="17.8" text-anchor="end" textLength="73" lengthAdjust="spacingAndGlyphs">4100000</text>
<line x1="123.9" x2="134.7" y1="812.8" y2="812.8" stroke="#dcdcdc" stroke-width="1.2"/>
<text x="120.9" y="820.0" font-family="Liberation Sans, sans-serif" font-weight="bold" font-size="17.8" text-anchor="end" textLength="73" lengthAdjust="spacingAndGlyphs">4099000</text>
<line x1="123.9" x2="134.7" y1="865.3" y2="865.3" stroke="#dcdcdc" stroke-width="1.2"/>
<text x="120.9" y="872.4" font-family="Liberation Sans, sans-serif" font-weight="bold" font-size="17.8" text-anchor="end" textLength="73" lengthAdjust="spacingAndGlyphs">4098000</text>
<line x1="123.9" x2="134.7" y1="917.8" y2="917.8" stroke="#dcdcdc" stroke-width="1.2"/>
<text x="120.9" y="924.8" font-family="Liberation Sans, sans-serif" font-weight="bold" font-size="17.8" text-anchor="end" textLength="73" lengthAdjust="spacingAndGlyphs">4097000</text>
<line x1="181.6" x2="181.6" y1="958.5" y2="968.0" stroke="#dcdcdc" stroke-width="1.2"/>
<text x="181.2" y="990.3" font-family="Liberation Sans, sans-serif" font-weight="bold" font-size="17.8" text-anchor="middle" textLength="62" lengthAdjust="spacingAndGlyphs">320000</text>
<line x1="286.2" x2="286.2" y1="958.5" y2="968.0" stroke="#dcdcdc" stroke-width="1.2"/>
<text x="285.9" y="990.3" font-family="Liberation Sans, sans-serif" font-weight="bold" font-size="17.8" text-anchor="middle" textLength="62" lengthAdjust="spacingAndGlyphs">322000</text>
<line x1="390.9" x2="390.9" y1="958.5" y2="968.0" stroke="#dcdcdc" stroke-width="1.2"/>
<line x1="495.7" x2="495.7" y1="958.5" y2="968.0" stroke="#dcdcdc" stroke-width="1.2"/>
<line x1="600.3" x2="600.3" y1="958.5" y2="968.0" stroke="#dcdcdc" stroke-width="1.2"/>
<line x1="705.0" x2="705.0" y1="958.5" y2="968.0" stroke="#dcdcdc" stroke-width="1.2"/>
<text x="704.8" y="990.3" font-family="Liberation Sans, sans-serif" font-weight="bold" font-size="17.8" text-anchor="middle" textLength="62" lengthAdjust="spacingAndGlyphs">330000</text>
<line x1="809.8" x2="809.8" y1="958.5" y2="968.0" stroke="#dcdcdc" stroke-width="1.2"/>
<text x="809.5" y="990.3" font-family="Liberation Sans, sans-serif" font-weight="bold" font-size="17.8" text-anchor="middle" textLength="62" lengthAdjust="spacingAndGlyphs">332000</text>
<line x1="914.4" x2="914.4" y1="958.5" y2="968.0" stroke="#dcdcdc" stroke-width="1.2"/>
<text x="914.1" y="990.3" font-family="Liberation Sans, sans-serif" font-weight="bold" font-size="17.8" text-anchor="middle" textLength="62" lengthAdjust="spacingAndGlyphs">334000</text>
<text transform="translate(32.1,801.6) rotate(-90)" font-family="Liberation Sans, sans-serif" font-weight="bold" font-size="18.5" text-anchor="middle" textLength="202.8" lengthAdjust="spacingAndGlyphs">Latitude ϕ (GGRS87, m)</text>
<clipPath id="landb"><polygon points="134.7,644.7 955.6,644.7 955.6,846.0 922.9,834.2 896.9,825.1 871.0,819.4 842.4,816.0 826.8,819.9 823.0,822.5 823.0,814.7 801.4,814.7 801.4,806.4 795.7,806.4 794.4,826.4 767.2,819.9 741.9,814.0 720.3,808.6 707.3,801.5 695.3,797.0 670.1,793.3 638.3,788.8 623.3,788.6 602.3,788.8 571.3,789.7 547.3,791.0 521.5,793.2 502.3,795.8 471.6,800.6 452.3,805.0 421.7,813.1 371.8,830.6 332.3,846.0 292.3,860.0 254.8,873.8 222.3,886.0 187.3,899.7 162.3,912.0 134.7,926.0"/></clipPath>
<filter id="dispb" filterUnits="userSpaceOnUse" x="94.7" y="604.7" width="900.9" height="400"><feTurbulence type="fractalNoise" baseFrequency="0.035" numOctaves="4" seed="5" result="n"/><feDisplacementMap in="SourceGraphic" in2="n" scale="26" xChannelSelector="R" yChannelSelector="G"/></filter>
<g clip-path="url(#landb)">
<rect x="134.7" y="644.7" width="820.9" height="320" fill="#4399b5"/>
<g filter="url(#dispb)">
<rect x="94.7" y="604.7" width="900.9" height="400" fill="#4399b5"/>
<polygon points="432.3,631.0 642.3,631.0 642.3,771.0 522.3,781.0 432.3,791.0" fill="#479cb3" fill-opacity="1" filter="url(#b16)"/>
<polygon points="102.3,621.0 342.3,621.0 338.3,721.0 316.3,759.0 280.3,778.0 273.3,798.0 245.3,824.0 221.3,853.0 177.3,877.0 102.3,897.0" fill="#60b8a8" fill-opacity="1" filter="url(#b8)"/>
<polygon points="102.3,621.0 320.3,621.0 314.3,711.0 292.3,753.0 264.3,771.0 257.3,793.0 230.3,819.0 202.3,843.0 162.3,861.0 102.3,869.0" fill="#78c4a4" fill-opacity="1" filter="url(#b8)"/>
<polygon points="102.3,621.0 264.3,621.0 252.3,681.0 234.3,731.0 214.3,766.0 192.3,796.0 162.3,816.0 102.3,831.0" fill="#92d0a2" fill-opacity="1" filter="url(#b10)"/>
<polygon points="102.3,621.0 217.3,621.0 200.3,681.0 182.3,736.0 152.3,776.0 102.3,793.0" fill="#aedda0" fill-opacity="1" filter="url(#b10)"/>
<polygon points="102.3,621.0 182.3,621.0 158.3,676.0 102.3,716.0" fill="#c6e89c" fill-opacity="1" filter="url(#b8)"/>
<polygon points="122.3,631.0 152.3,631.0 138.3,655.0 122.3,666.0" fill="#d8ee9c" fill-opacity="1" filter="url(#b5)"/>
<path d="M165.3,667.0 C169.8,670.7 183.6,683.0 192.3,689.0 C201.0,695.0 210.8,696.3 217.3,703.0 C223.8,709.7 226.5,721.2 231.3,729.0 C236.1,736.8 240.1,743.0 246.3,750.0 C252.5,757.0 264.6,767.5 268.3,771.0" fill="none" stroke="#55aaab" stroke-opacity="0.675" stroke-width="7" stroke-linecap="round" filter="url(#b3)"/>
<path d="M158.3,703.0 C162.6,710.0 175.6,731.2 184.3,745.0 C193.0,758.8 202.5,773.0 210.3,786.0 C218.1,799.0 227.8,816.8 231.3,823.0" fill="none" stroke="#55aaab" stroke-opacity="0.675" stroke-width="6" stroke-linecap="round" filter="url(#b3)"/>
<path d="M140.3,765.0 C144.6,771.2 156.8,789.8 166.3,802.0 C175.8,814.2 192.1,832.0 197.3,838.0" fill="none" stroke="#55aaab" stroke-opacity="0.675" stroke-width="5" stroke-linecap="round" filter="url(#b3)"/>
<path d="M252.3,651.0 C254.3,656.0 262.3,671.3 264.3,681.0 C266.3,690.7 264.3,704.3 264.3,709.0" fill="none" stroke="#55aaab" stroke-opacity="0.45" stroke-width="6" stroke-linecap="round" filter="url(#b3)"/>
<path d="M202.3,651.0 C204.6,656.0 212.6,671.8 216.3,681.0 C220.0,690.2 223.0,701.8 224.3,706.0" fill="none" stroke="#55aaab" stroke-opacity="0.45" stroke-width="5" stroke-linecap="round" filter="url(#b3)"/>
<path d="M292.3,691.0 C294.0,696.0 301.3,711.8 302.3,721.0 C303.3,730.2 299.0,741.8 298.3,746.0" fill="none" stroke="#55aaab" stroke-opacity="0.405" stroke-width="6" stroke-linecap="round" filter="url(#b3)"/>
<path d="M148.3,651.0 C152.3,657.7 165.6,677.7 172.3,691.0 C179.0,704.3 185.6,724.3 188.3,731.0" fill="none" stroke="#55aaab" stroke-opacity="0.36000000000000004" stroke-width="5" stroke-linecap="round" filter="url(#b3)"/>
<polygon points="614.3,621.0 992.3,621.0 992.3,833.0 955.3,818.0 892.3,787.0 822.3,764.0 747.3,762.0 692.3,764.0 644.3,757.0 628.3,711.0 618.3,661.0" fill="#5ab2aa" fill-opacity="1" filter="url(#b10)"/>
<polygon points="632.3,621.0 992.3,621.0 992.3,793.0 942.3,767.0 882.3,753.0 832.3,739.0 792.3,737.0 757.3,745.0 712.3,751.0 662.3,741.0 642.3,701.0" fill="#79c5a4" fill-opacity="1" filter="url(#b9)"/>
<polygon points="638.3,626.0 732.3,626.0 733.3,731.0 692.3,740.0 654.3,727.0 640.3,681.0" fill="#97d2a2" fill-opacity="1" filter="url(#b7)"/>
<polygon points="743.3,626.0 818.3,626.0 825.3,681.0 817.3,721.0 782.3,732.0 748.3,727.0" fill="#9ad4a2" fill-opacity="1" filter="url(#b7)"/>
<polygon points="824.3,691.0 852.3,659.0 874.3,626.0 992.3,626.0 992.3,776.0 952.3,765.0 902.3,759.0 852.3,746.0 828.3,723.0" fill="#c2e5a0" fill-opacity="1" filter="url(#b8)"/>
<polygon points="854.3,681.0 882.3,649.0 900.3,626.0 992.3,626.0 992.3,753.0 952.3,729.0 902.3,717.0 864.3,707.0" fill="#dcf0a1" fill-opacity="1" filter="url(#b8)"/>
<polygon points="898.3,626.0 992.3,626.0 992.3,706.0 944.3,683.0 918.3,657.0" fill="#f8f5a8" fill-opacity="1" filter="url(#b6)"/>
<polygon points="917.3,629.0 992.3,629.0 992.3,663.0 960.3,659.0 937.3,651.0" fill="#fdb863" fill-opacity="1" filter="url(#b5)"/>
<path d="M738.1,645.0 C737.6,649.2 736.3,662.0 735.3,670.0 C734.3,678.0 731.8,685.8 732.3,693.0 C732.8,700.2 737.6,705.7 738.1,713.0 C738.6,720.3 735.8,733.0 735.3,737.0" fill="none" stroke="#4fa6ab" stroke-opacity="1" stroke-width="4.5" stroke-linecap="round" filter="url(#b2)"/>
<path d="M758.3,647.0 C759.8,651.8 764.6,668.5 767.0,675.7 C769.4,682.9 772.8,684.5 772.8,690.0 C772.8,695.5 768.0,705.8 767.0,709.0" fill="none" stroke="#4fa6ab" stroke-opacity="1" stroke-width="4" stroke-linecap="round" filter="url(#b2)"/>
<path d="M784.3,647.0 C784.8,652.3 785.3,670.3 787.3,678.6 C789.2,686.9 794.5,693.9 796.0,697.0" fill="none" stroke="#4fa6ab" stroke-opacity="1" stroke-width="3.6" stroke-linecap="round" filter="url(#b2)"/>
<path d="M707.3,645.0 C707.8,649.3 710.6,662.5 710.3,671.0 C710.0,679.5 705.3,687.7 705.3,696.0 C705.3,704.3 709.5,716.8 710.3,721.0" fill="none" stroke="#4fa6ab" stroke-opacity="0.9900000000000001" stroke-width="3.4" stroke-linecap="round" filter="url(#b2)"/>
<path d="M674.3,649.0 C675.0,654.3 678.6,670.7 678.3,681.0 C678.0,691.3 673.3,706.0 672.3,711.0" fill="none" stroke="#4fa6ab" stroke-opacity="0.81" stroke-width="3.4" stroke-linecap="round" filter="url(#b2)"/>
<path d="M657.3,656.0 C656.5,661.8 652.3,680.2 652.3,691.0 C652.3,701.8 656.5,716.0 657.3,721.0" fill="none" stroke="#4fa6ab" stroke-opacity="0.7200000000000001" stroke-width="3.4" stroke-linecap="round" filter="url(#b2)"/>
<path d="M822.0,643.0 C823.5,646.5 827.3,659.0 830.7,664.0 C834.1,669.0 838.4,672.3 842.3,672.8 C846.1,673.3 849.5,671.0 853.8,667.0 C858.1,663.0 865.9,652.0 868.3,649.0" fill="none" stroke="#6cbca6" stroke-opacity="1" stroke-width="7" stroke-linecap="round" filter="url(#b3)"/>
<path d="M802.3,645.0 C803.3,649.0 805.8,662.0 808.3,669.0 C810.8,676.0 815.8,684.0 817.3,687.0" fill="none" stroke="#66b8a7" stroke-opacity="0.9" stroke-width="4" stroke-linecap="round" filter="url(#b2)"/>
<path d="M907.3,691.0 C910.1,696.0 919.8,710.7 924.3,721.0 C928.8,731.3 932.6,747.7 934.3,753.0" fill="none" stroke="#9ad4a2" stroke-opacity="0.81" stroke-width="5" stroke-linecap="round" filter="url(#b3)"/>
<path d="M872.3,701.0 C874.8,706.0 884.0,721.8 887.3,731.0 C890.6,740.2 891.5,751.8 892.3,756.0" fill="none" stroke="#9ad4a2" stroke-opacity="0.63" stroke-width="4" stroke-linecap="round" filter="url(#b3)"/>
<path d="M750.3,711.0 C751.0,714.3 753.6,727.7 754.3,731.0" fill="none" stroke="#4fa6ab" stroke-opacity="0.63" stroke-width="3" stroke-linecap="round" filter="url(#b2)"/>
</g>
<line x1="386.3" x2="387.8" y1="644.7" y2="831.0" stroke="#55a4b4" stroke-width="1.6" opacity="0.7"/>
</g>
<filter id="rag" filterUnits="userSpaceOnUse" x="120" y="630" width="560" height="320"><feTurbulence type="fractalNoise" baseFrequency="0.11" numOctaves="2" seed="11" result="n"/><feDisplacementMap in="SourceGraphic" in2="n" scale="9" xChannelSelector="R" yChannelSelector="G"/></filter>
<g filter="url(#rag)">
<polygon points="176.0,884.0 182.0,876.0 190.0,878.0 196.0,874.0 203.0,868.0 210.0,860.0 218.0,856.0 226.0,848.0 232.0,842.0 238.0,834.0 246.0,833.0 254.0,830.0 260.0,820.0 266.0,812.0 274.0,806.0 282.0,796.0 292.0,789.0 302.0,780.0 304.4,772.5 312.0,760.0 316.0,752.0 321.2,743.2 322.0,735.0 326.0,728.0 328.0,720.0 329.6,713.8 338.0,716.0 345.0,712.0 354.0,714.0 363.0,711.7 372.0,718.0 379.8,722.2 380.6,707.5 383.6,707.5 384.2,712.0 388.0,715.0 392.0,712.0 396.0,715.0 400.0,712.0 405.0,714.0 409.0,710.0 413.0,712.0 417.0,708.0 422.0,710.0 427.0,706.0 432.0,708.0 438.0,705.0 445.0,706.0 451.0,703.3 458.0,700.0 460.0,703.0 568.0,703.0 568.5,693.0 576.0,692.0 582.0,694.0 590.0,695.0 596.5,698.5 604.0,701.0 610.0,706.0 618.0,708.0 624.4,713.8 630.0,722.0 632.8,732.0 626.0,736.0 620.0,738.0 607.6,741.8 602.0,747.0 596.5,750.0 582.0,752.0 568.5,753.0 565.0,758.0 563.0,764.0 556.0,768.0 548.0,770.0 532.2,775.3 516.0,779.0 500.0,783.0 486.0,786.0 473.5,789.3 468.0,793.0 465.0,797.6 465.0,803.0 452.3,805.0 421.7,813.1 371.8,830.6 332.3,846.0 292.3,860.0 254.8,873.8 222.3,886.0 187.3,899.7 176.0,905.0" fill="#00ff00"/>
<rect x="174.1" y="880.6" width="3.5" height="3.5" fill="#00ff00"/>
<rect x="175.8" y="874.4" width="5.2" height="5.2" fill="#00ff00"/>
<rect x="180.1" y="871.7" width="3.6" height="3.6" fill="#00ff00"/>
<rect x="185.3" y="872.5" width="4.1" height="4.1" fill="#00ff00"/>
<rect x="194.1" y="873.6" width="4.8" height="4.8" fill="#00ff00"/>
<rect x="191.0" y="874.1" width="4.4" height="4.4" fill="#00ff00"/>
<rect x="191.5" y="868.8" width="6.5" height="6.5" fill="#00ff00"/>
<rect x="195.4" y="871.4" width="4.7" height="4.7" fill="#00ff00"/>
<rect x="202.2" y="859.0" width="4.0" height="4.0" fill="#00ff00"/>
<rect x="204.6" y="858.7" width="5.5" height="5.5" fill="#00ff00"/>
<rect x="209.4" y="857.0" width="6.0" height="6.0" fill="#00ff00"/>
<rect x="209.0" y="855.8" width="6.7" height="6.7" fill="#00ff00"/>
<rect x="220.7" y="851.2" width="3.7" height="3.7" fill="#00ff00"/>
<rect x="220.3" y="848.0" width="5.2" height="5.2" fill="#00ff00"/>
<rect x="224.5" y="846.6" width="5.5" height="5.5" fill="#00ff00"/>
<rect x="227.3" y="841.1" width="5.6" height="5.6" fill="#00ff00"/>
<rect x="231.7" y="835.9" width="7.0" height="7.0" fill="#00ff00"/>
<rect x="232.8" y="832.6" width="6.0" height="6.0" fill="#00ff00"/>
<rect x="244.0" y="833.1" width="4.3" height="4.3" fill="#00ff00"/>
<rect x="239.6" y="828.2" width="5.0" height="5.0" fill="#00ff00"/>
<rect x="241.9" y="826.7" width="6.3" height="6.3" fill="#00ff00"/>
<rect x="242.2" y="828.6" width="6.7" height="6.7" fill="#00ff00"/>
<rect x="250.8" y="826.1" width="6.7" height="6.7" fill="#00ff00"/>
<rect x="258.7" y="818.0" width="4.9" height="4.9" fill="#00ff00"/>
<rect x="262.6" y="818.0" width="3.8" height="3.8" fill="#00ff00"/>
<rect x="256.9" y="814.4" width="5.1" height="5.1" fill="#00ff00"/>
<rect x="266.9" y="803.1" width="4.9" height="4.9" fill="#00ff00"/>
<rect x="266.4" y="809.5" width="6.0" height="6.0" fill="#00ff00"/>
<rect x="277.1" y="800.2" width="3.4" height="3.4" fill="#00ff00"/>
<rect x="279.7" y="796.1" width="6.4" height="6.4" fill="#00ff00"/>
<rect x="282.4" y="788.0" width="5.7" height="5.7" fill="#00ff00"/>
<rect x="278.1" y="791.9" width="3.8" height="3.8" fill="#00ff00"/>
<rect x="290.8" y="781.0" width="3.8" height="3.8" fill="#00ff00"/>
<rect x="288.8" y="781.9" width="6.7" height="6.7" fill="#00ff00"/>
<rect x="299.1" y="771.6" width="4.6" height="4.6" fill="#00ff00"/>
<rect x="297.0" y="775.8" width="7.2" height="7.2" fill="#00ff00"/>
<rect x="306.0" y="762.4" width="3.6" height="3.6" fill="#00ff00"/>
<rect x="303.7" y="768.3" width="3.8" height="3.8" fill="#00ff00"/>
<rect x="312.9" y="758.1" width="3.8" height="3.8" fill="#00ff00"/>
<rect x="307.8" y="752.3" width="7.1" height="7.1" fill="#00ff00"/>
<rect x="319.3" y="740.6" width="4.7" height="4.7" fill="#00ff00"/>
<rect x="315.3" y="747.6" width="6.3" height="6.3" fill="#00ff00"/>
<rect x="316.2" y="738.8" width="7.1" height="7.1" fill="#00ff00"/>
<rect x="320.6" y="735.0" width="6.2" height="6.2" fill="#00ff00"/>
<rect x="321.4" y="730.9" width="3.3" height="3.3" fill="#00ff00"/>
<rect x="317.8" y="730.4" width="6.0" height="6.0" fill="#00ff00"/>
<rect x="324.0" y="719.4" width="7.2" height="7.2" fill="#00ff00"/>
<rect x="325.0" y="716.6" width="4.1" height="4.1" fill="#00ff00"/>
<rect x="323.1" y="716.1" width="6.8" height="6.8" fill="#00ff00"/>
<rect x="326.0" y="712.5" width="6.4" height="6.4" fill="#00ff00"/>
<rect x="328.1" y="713.3" width="6.3" height="6.3" fill="#00ff00"/>
<rect x="332.6" y="710.3" width="6.4" height="6.4" fill="#00ff00"/>
<rect x="339.7" y="715.1" width="4.8" height="4.8" fill="#00ff00"/>
<rect x="341.6" y="713.8" width="3.9" height="3.9" fill="#00ff00"/>
<rect x="340.8" y="711.5" width="6.4" height="6.4" fill="#00ff00"/>
<rect x="345.4" y="712.3" width="5.8" height="5.8" fill="#00ff00"/>
<rect x="355.8" y="709.4" width="3.3" height="3.3" fill="#00ff00"/>
<rect x="360.2" y="708.5" width="6.9" height="6.9" fill="#00ff00"/>
<rect x="367.1" y="714.4" width="4.0" height="4.0" fill="#00ff00"/>
<rect x="361.3" y="709.0" width="5.5" height="5.5" fill="#00ff00"/>
<rect x="370.1" y="713.5" width="6.8" height="6.8" fill="#00ff00"/>
<rect x="371.1" y="716.6" width="6.8" height="6.8" fill="#00ff00"/>
</g>
<path d="M134.7,926.0 C139.3,923.7 153.5,916.4 162.3,912.0 C171.1,907.6 177.3,904.0 187.3,899.7 C197.3,895.4 211.1,890.3 222.3,886.0 C233.6,881.7 243.1,878.1 254.8,873.8 C266.5,869.5 279.4,864.6 292.3,860.0 C305.2,855.4 319.1,850.9 332.3,846.0 C345.6,841.1 356.9,836.1 371.8,830.6 C386.7,825.1 408.3,817.4 421.7,813.1 C435.1,808.8 444.0,807.1 452.3,805.0 C460.6,802.9 463.3,802.1 471.6,800.6 C479.9,799.1 494.0,797.0 502.3,795.8 C510.6,794.6 514.0,794.0 521.5,793.2 C529.0,792.4 539.0,791.6 547.3,791.0 C555.6,790.4 562.1,790.1 571.3,789.7 C580.5,789.3 593.6,789.0 602.3,788.8 C611.0,788.6 617.3,788.6 623.3,788.6 C629.3,788.6 630.5,788.0 638.3,788.8 C646.1,789.6 660.6,791.9 670.1,793.3 C679.6,794.7 691.1,796.4 695.3,797.0 L695.3,957 L134.7,957 Z" fill="#fff"/>
<path d="M134.7,926.0 C139.3,923.7 153.5,916.4 162.3,912.0 C171.1,907.6 177.3,904.0 187.3,899.7 C197.3,895.4 211.1,890.3 222.3,886.0 C233.6,881.7 243.1,878.1 254.8,873.8 C266.5,869.5 279.4,864.6 292.3,860.0 C305.2,855.4 319.1,850.9 332.3,846.0 C345.6,841.1 356.9,836.1 371.8,830.6 C386.7,825.1 408.3,817.4 421.7,813.1 C435.1,808.8 444.0,807.1 452.3,805.0 C460.6,802.9 463.3,802.1 471.6,800.6 C479.9,799.1 494.0,797.0 502.3,795.8 C510.6,794.6 514.0,794.0 521.5,793.2 C529.0,792.4 539.0,791.6 547.3,791.0 C555.6,790.4 562.1,790.1 571.3,789.7 C580.5,789.3 593.6,789.0 602.3,788.8 C611.0,788.6 617.3,788.6 623.3,788.6 C629.3,788.6 630.5,788.0 638.3,788.8 C646.1,789.6 660.6,791.9 670.1,793.3 C679.6,794.7 691.1,796.4 695.3,797.0" fill="none" stroke="#00ff00" stroke-width="3.4" transform="translate(0,-1.2)"/>
<path d="M134.7,926.0 C139.3,923.7 153.5,916.4 162.3,912.0 C171.1,907.6 177.3,904.0 187.3,899.7 C197.3,895.4 211.1,890.3 222.3,886.0 C233.6,881.7 243.1,878.1 254.8,873.8 C266.5,869.5 279.4,864.6 292.3,860.0 C305.2,855.4 319.1,850.9 332.3,846.0 C345.6,841.1 356.9,836.1 371.8,830.6 C386.7,825.1 408.3,817.4 421.7,813.1 C435.1,808.8 444.0,807.1 452.3,805.0 C460.6,802.9 468.4,801.3 471.6,800.6" fill="none" stroke="#00ff00" stroke-width="4.6" transform="translate(0,-1.7)"/>
<path d="M134.7,926.0 C139.3,923.7 153.5,916.4 162.3,912.0 C171.1,907.6 177.3,904.0 187.3,899.7 C197.3,895.4 211.1,890.3 222.3,886.0 C233.6,881.7 243.1,878.1 254.8,873.8 C266.5,869.5 286.1,862.3 292.3,860.0" fill="none" stroke="#00ff00" stroke-width="7" transform="translate(0,-2.6)"/>
<path d="M134.5,900 L140,897.5 L150,898 L152.5,906 L151,914 L146,919 L140,923 L137,928 L134.5,930 Z" fill="#00ff00"/>
<ellipse cx="646" cy="795.5" rx="4.2" ry="5" fill="#00ff00"/>
<path d="M655,792 h11" stroke="#00ff00" stroke-width="6"/>
<polygon points="556.0,724.0 562.0,720.0 572.0,720.0 575.0,726.0 579.5,730.0 577.0,738.0 570.0,743.0 560.0,744.0 556.0,740.0 559.0,733.0 555.0,728.0" fill="#4a9fb0" fill-opacity="1"/>
<polygon points="588.0,726.0 594.0,724.0 596.0,732.0 590.0,735.0" fill="#4a9fb0" fill-opacity="1"/>
<polygon points="220.0,862.0 232.0,858.0 242.0,860.0 240.0,870.0 228.0,872.0 221.0,868.0" fill="#4a9fb0" fill-opacity="1"/>
<polygon points="245.0,856.0 258.0,852.0 267.0,856.0 266.0,868.0 254.0,870.0 246.0,866.0" fill="#4a9fb0" fill-opacity="1"/>
<polygon points="197.0,879.0 208.0,877.0 210.0,886.0 200.0,888.0" fill="#4a9fb0" fill-opacity="1"/>
<polygon points="182.0,888.0 196.0,889.0 194.0,894.0 183.0,893.0" fill="#4a9fb0" fill-opacity="1"/>
<polygon points="228.0,878.0 238.0,876.0 239.0,881.0 229.0,883.0" fill="#4a9fb0" fill-opacity="1"/>
<polygon points="270.0,838.0 276.0,836.0 277.0,842.0 271.0,844.0" fill="#4a9fb0" fill-opacity="1"/>
<polygon points="283.0,842.0 288.0,840.0 289.0,846.0 284.0,847.0" fill="#4a9fb0" fill-opacity="1"/>
<line x1="382.6" x2="383.4" y1="722" y2="828" stroke="#2fc58c" stroke-width="1.3" opacity="0.9"/>
<line x1="376.5" x2="377.5" y1="728" y2="828" stroke="#2fc58c" stroke-width="1" opacity="0.7"/>
<line x1="391" x2="391.6" y1="713" y2="745" stroke="#3fb8a0" stroke-width="1" opacity="0.55"/>
<line x1="397" x2="397.6" y1="719" y2="747" stroke="#3fb8a0" stroke-width="1" opacity="0.55"/>
<line x1="404" x2="404.6" y1="714" y2="740" stroke="#3fb8a0" stroke-width="1" opacity="0.55"/>
<line x1="411" x2="411.6" y1="718" y2="747" stroke="#3fb8a0" stroke-width="1" opacity="0.55"/>
<line x1="419" x2="419.6" y1="720" y2="745" stroke="#3fb8a0" stroke-width="1" opacity="0.55"/>
<line x1="426" x2="426.6" y1="715" y2="738" stroke="#3fb8a0" stroke-width="1" opacity="0.55"/>
<line x1="434" x2="434.6" y1="717" y2="736" stroke="#3fb8a0" stroke-width="1" opacity="0.55"/>
<line x1="443" x2="443.6" y1="717" y2="739" stroke="#3fb8a0" stroke-width="1" opacity="0.55"/>
<line x1="352" x2="352.6" y1="719" y2="746" stroke="#3fb8a0" stroke-width="1" opacity="0.55"/>
<line x1="360" x2="360.6" y1="712" y2="744" stroke="#3fb8a0" stroke-width="1" opacity="0.55"/>
<line x1="342" x2="342.6" y1="712" y2="738" stroke="#3fb8a0" stroke-width="1" opacity="0.55"/>
<rect x="344" y="795" width="7" height="3" fill="#3fb98f" opacity="0.75"/>
<rect x="352" y="812" width="5" height="4" fill="#3fb98f" opacity="0.75"/>
<rect x="330" y="830" width="6" height="3" fill="#3fb98f" opacity="0.75"/>
<rect x="300" y="840" width="4" height="4" fill="#3fb98f" opacity="0.75"/>
<rect x="437" y="735" width="3" height="12" fill="#3fb98f" opacity="0.75"/>
<rect x="402" y="800" width="8" height="4" fill="#3fb98f" opacity="0.75"/>
<rect x="418" y="806" width="10" height="4" fill="#3fb98f" opacity="0.75"/>
<rect x="442" y="800" width="3" height="10" fill="#3fb98f" opacity="0.75"/>
<rect x="350" y="760" width="3" height="10" fill="#3fb98f" opacity="0.75"/>
<rect x="365" y="770" width="3" height="9" fill="#3fb98f" opacity="0.75"/>
<clipPath id="cb1"><rect x="460.5" y="645.5" width="106.5" height="57.0"/></clipPath>
<g clip-path="url(#cb1)">
<rect x="460.5" y="645.5" width="106.5" height="57.0" fill="#4399b5"/>
<g transform="translate(460.5,645.5) scale(0.3362,0.3409) translate(-666,-744.2)">
<polygon points="666.0,911.4 670.7,904.6 679.7,890.1 687.0,879.3 690.6,861.2 694.2,850.4 706.8,832.3 710.4,819.7 714.1,816.8 733.9,821.5 755.6,823.3 777.3,826.9 782.7,830.5 788.1,832.3 791.7,838.8 802.6,836.6 813.4,834.1 812.7,826.9 817.0,817.9 818.8,808.8 820.6,799.8 813.4,794.4 804.4,789.0 799.0,787.2 791.7,785.3 779.1,779.9 776.6,774.5 779.1,769.1 784.5,772.7 795.3,774.5 804.4,772.7 806.2,765.5 813.4,765.5 817.0,781.7 822.4,778.1 824.2,763.7 831.5,761.9 835.1,774.5 842.3,785.3 843.0,796.2 840.5,807.0 845.9,808.8 856.8,803.4 865.8,799.8 862.2,789.0 865.8,774.5 860.4,760.1 871.2,752.8 889.3,745.6 950.7,745.6 954.3,767.3 957.9,778.1 965.1,789.0 967.0,803.4 963.3,817.9 972.4,835.9 981.4,834.1 983.9,846.8 983.9,911.4" fill="#00ff00"/>
<polygon points="838.0,808.8 850.3,807.0 851.3,832.3 847.7,845.0 838.7,843.2 836.9,825.1" fill="#4399b5"/>
<polygon points="748.4,861.2 768.3,863.0 770.1,873.9 761.0,877.5 755.6,882.9 744.8,868.4" fill="#4399b5"/>
<polygon points="947.1,789.0 951.4,787.2 959.7,810.6 956.1,814.2" fill="#4399b5"/>
</g></g>
<path d="M570,648 Q571,676 585,690" fill="none" stroke="#35e060" stroke-width="2.2"/>
<path d="M460,703.8 L700,847.6" stroke="#000" stroke-width="3" stroke-dasharray="10,4.6" fill="none"/>
<path d="M567.5,703.8 L666,744.8" stroke="#000" stroke-width="3" stroke-dasharray="10,4.6" fill="none"/>
<path d="M473.4,778.6 L663.5,858.8" stroke="#000" stroke-width="3" stroke-dasharray="10,4.6" fill="none"/>
<path d="M387,779 L285,858.6" stroke="#000" stroke-width="3" stroke-dasharray="10,4.6" fill="none"/>
<clipPath id="ci4"><rect x="666" y="744.2" width="316.8" height="167.2"/></clipPath>
<g clip-path="url(#ci4)">
<rect x="666" y="744.2" width="316.8" height="167.2" fill="#4a9bb6"/>
<filter id="rag4" filterUnits="userSpaceOnUse" x="640" y="730" width="362" height="200"><feTurbulence type="fractalNoise" baseFrequency="0.07" numOctaves="2" seed="4" result="n"/><feDisplacementMap in="SourceGraphic" in2="n" scale="8" xChannelSelector="R" yChannelSelector="G"/></filter>
<g filter="url(#rag4)">
<rect x="640" y="730" width="362" height="200" fill="#4a9bb6"/>
<polygon points="666.0,911.4 670.7,904.6 679.7,890.1 687.0,879.3 690.6,861.2 694.2,850.4 706.8,832.3 710.4,819.7 714.1,816.8 733.9,821.5 755.6,823.3 777.3,826.9 782.7,830.5 788.1,832.3 791.7,838.8 802.6,836.6 813.4,834.1 812.7,826.9 817.0,817.9 818.8,808.8 820.6,799.8 813.4,794.4 804.4,789.0 799.0,787.2 791.7,785.3 779.1,779.9 776.6,774.5 779.1,769.1 784.5,772.7 795.3,774.5 804.4,772.7 806.2,765.5 813.4,765.5 817.0,781.7 822.4,778.1 824.2,763.7 831.5,761.9 835.1,774.5 842.3,785.3 843.0,796.2 840.5,807.0 845.9,808.8 856.8,803.4 865.8,799.8 862.2,789.0 865.8,774.5 860.4,760.1 871.2,752.8 889.3,745.6 950.7,745.6 954.3,767.3 957.9,778.1 965.1,789.0 967.0,803.4 963.3,817.9 972.4,835.9 981.4,834.1 983.9,846.8 983.9,911.4" fill="#2fcb62" stroke="#2fcb62" stroke-width="2" stroke-linejoin="round"/>
<polygon points="838.0,808.8 850.3,807.0 851.3,832.3 847.7,845.0 838.7,843.2 836.9,825.1" fill="#4a9bb6" stroke="#4a9bb6" stroke-width="1" stroke-linejoin="round"/>
<polygon points="892.9,785.3 905.5,789.0 907.3,798.0 898.3,799.8 892.9,794.4" fill="#4a9bb6" stroke="#4a9bb6" stroke-width="1" stroke-linejoin="round"/>
<polygon points="920.0,777.4 952.5,776.3 953.6,783.5 920.0,784.6" fill="#4a9bb6" stroke="#4a9bb6" stroke-width="1" stroke-linejoin="round"/>
<polygon points="947.1,789.0 951.4,787.2 959.7,810.6 956.1,814.2" fill="#4a9bb6" stroke="#4a9bb6" stroke-width="1" stroke-linejoin="round"/>
<polygon points="876.6,825.1 889.3,821.5 889.3,826.9 878.4,834.1" fill="#4a9bb6" stroke="#4a9bb6" stroke-width="1" stroke-linejoin="round"/>
<polygon points="921.8,846.8 927.2,843.2 930.8,850.4 925.4,854.0" fill="#4a9bb6" stroke="#4a9bb6" stroke-width="1" stroke-linejoin="round"/>
<polygon points="748.4,861.2 768.3,863.0 770.1,873.9 761.0,877.5 755.6,882.9 744.8,868.4" fill="#4a9bb6" stroke="#4a9bb6" stroke-width="1" stroke-linejoin="round"/>
<polygon points="755.6,897.3 777.3,899.1 797.2,910.0 759.2,904.6" fill="#4a9bb6" stroke="#4a9bb6" stroke-width="1" stroke-linejoin="round"/>
<polygon points="806.2,875.7 835.1,877.5 835.1,880.0 806.2,879.3" fill="#4a9bb6" stroke="#4a9bb6" stroke-width="1" stroke-linejoin="round"/>
<polygon points="687.0,882.9 694.2,884.7 693.5,890.1 687.0,889.4" fill="#4a9bb6" stroke="#4a9bb6" stroke-width="1" stroke-linejoin="round"/>
<polygon points="977.8,850.4 983.9,848.6 983.9,861.2 978.9,859.4" fill="#4a9bb6" stroke="#4a9bb6" stroke-width="1" stroke-linejoin="round"/>
<polygon points="730.3,895.5 735.7,895.5 735.7,899.1 730.3,899.1" fill="#4a9bb6" stroke="#4a9bb6" stroke-width="1" stroke-linejoin="round"/>
<polygon points="858.6,879.3 871.2,882.9 869.8,885.8 858.2,882.2" fill="#4a9bb6" stroke="#4a9bb6" stroke-width="1" stroke-linejoin="round"/>
</g>
<rect x="843.6" y="784.5" width="1.6" height="3.6" fill="#c040d0"/>
</g>
<rect x="666" y="744.2" width="316.8" height="167.2" fill="none" stroke="#000" stroke-width="1.5"/>
<clipPath id="ci3"><rect x="284.3" y="859.3" width="379.3" height="208.7"/></clipPath>
<g clip-path="url(#ci3)">
<rect x="284.3" y="859.3" width="379.3" height="208.7" fill="#38a98b"/>
<polygon points="349.8,975.9 392.7,969.8 433.7,963.7 436.9,947.3 439.8,939.1 458.2,937.1 460.3,967.7 464.4,1000.5 413.2,1013.6 360.0,1027.1 353.9,1000.5" fill="#4a99b4" stroke="#4a99b4" stroke-width="1.5" stroke-linejoin="round" filter="url(#b1)"/>
<polygon points="315.0,1018.9 331.4,1018.9 331.4,1031.2 315.0,1031.2" fill="#4a99b4" stroke="#4a99b4" stroke-width="1.5" stroke-linejoin="round" filter="url(#b1)"/>
<polygon points="628.0,881.8 663.6,881.8 663.6,961.6 640.3,961.6 638.2,926.8 636.2,898.2" fill="#4a99b4" stroke="#4a99b4" stroke-width="1.5" stroke-linejoin="round" filter="url(#b1)"/>
<polygon points="482.8,994.3 556.4,975.9 638.2,955.5 640.3,961.6 564.6,980.0 486.9,997.2" fill="#4a99b4" stroke="#4a99b4" stroke-width="1.5" stroke-linejoin="round" filter="url(#b1)"/>
<polygon points="576.9,959.6 636.2,949.3 636.2,954.2 576.9,964.5" fill="#4a99b4" stroke="#4a99b4" stroke-width="1.5" stroke-linejoin="round" filter="url(#b1)"/>
<polygon points="542.1,904.3 552.3,906.4 561.3,980.0 553.1,980.0" fill="#4a99b4" stroke="#4a99b4" stroke-width="1.5" stroke-linejoin="round" filter="url(#b1)"/>
<polygon points="564.6,918.6 578.9,918.6 578.9,928.9 564.6,928.9" fill="#4a99b4" stroke="#4a99b4" stroke-width="1.5" stroke-linejoin="round" filter="url(#b1)"/>
<polygon points="509.4,915.4 523.7,915.4 523.7,922.7 509.4,922.7" fill="#4a99b4" stroke="#4a99b4" stroke-width="1.5" stroke-linejoin="round" filter="url(#b1)"/>
<polygon points="460.3,969.8 466.4,967.7 480.7,996.4 472.5,998.4" fill="#4a99b4" stroke="#4a99b4" stroke-width="1.5" stroke-linejoin="round" filter="url(#b1)"/>
<polygon points="423.4,947.3 439.8,945.2 439.8,952.2 423.4,953.4" fill="#4a99b4" stroke="#4a99b4" stroke-width="1.5" stroke-linejoin="round" filter="url(#b1)"/>
<polygon points="353.9,937.1 358.0,939.1 353.9,943.2 350.6,941.6" fill="#4a99b4" stroke="#4a99b4" stroke-width="1.5" stroke-linejoin="round" filter="url(#b1)"/>
<polygon points="356.7,902.3 360.0,902.3 360.8,922.7 357.6,922.7" fill="#4a99b4" stroke="#4a99b4" stroke-width="1.5" stroke-linejoin="round" filter="url(#b1)"/>
<ellipse cx="451" cy="934" rx="5" ry="2" fill="#7a62c4"/>
<ellipse cx="481" cy="902" rx="3" ry="1.3" fill="#7a62c4"/>
<ellipse cx="549" cy="945.5" rx="2" ry="1.5" fill="#8a5ab8"/>
<ellipse cx="383" cy="893" rx="3" ry="1.5" fill="#5a7fc4"/>
<polygon points="282.3,1062.3 331.4,1050.0 392.7,1035.3 454.1,1020.9 515.5,1006.6 576.9,992.3 638.2,978.0 666.9,971.0 670.0,1075.0 280.0,1075.0" fill="#fff"/>
</g>
<rect x="284.3" y="859.3" width="379.3" height="208.7" fill="none" stroke="#000" stroke-width="1.5"/>
<polygon points="412.5,803.2 427.5,800.6 429.3,809.0 414.0,813.0" fill="#4297b8"/>
<polygon points="427.3,797.5 429.3,797.5 429.3,806.0 427.3,806.0" fill="#4297b8"/>
<polygon points="463.4,790.0 473.0,788.7 473.0,799.5 466.0,801.0 464.0,797.0" fill="#4297b8"/>
<polygon points="392.6,810.0 394.4,810.0 394.8,817.0 393.0,817.0" fill="#4297b8"/>
<path d="M447.6,794 L448.4,806 M451,795 L451.6,803" stroke="#2fd070" stroke-width="1" fill="none"/>
<rect x="460.5" y="645.5" width="106.5" height="57.0" fill="none" stroke="#000" stroke-width="3"/>
<rect x="387" y="779" width="86.0" height="45.0" fill="none" stroke="#000" stroke-width="3"/>
<rect x="725.2" y="574.1" width="17.2" height="15.1" fill="#00ff00"/>
<rect x="725.2" y="601.8" width="17.2" height="15.1" fill="#ff00ff"/>
<text x="753.2" y="588.5" font-family="Liberation Sans, sans-serif" font-weight="bold" font-size="16.6" textLength="171.4" lengthAdjust="spacingAndGlyphs">CoastFLOOD results</text>
<text x="753.2" y="615.5" font-family="Liberation Sans, sans-serif" font-weight="bold" font-size="16.6" textLength="165.3" lengthAdjust="spacingAndGlyphs">Bathtub-HC results</text>
<rect x="906.7" y="651.0" width="39.2" height="62.9" fill="#fff"/>
<text x="926.2" y="661.5" font-family="Liberation Sans, sans-serif" font-weight="bold" font-size="11.8" text-anchor="middle">N</text>
<polygon points="926.2,668.0 908.2,712.0 926.2,704.2" fill="#000"/>
<polygon points="926.2,672.0 942.0,710.0 926.2,703.2" fill="#fff" stroke="#000" stroke-width="2" stroke-linejoin="miter"/>
<polygon points="926.2,668.0 943.9,711.1 926.2,703.2" fill="none" stroke="#000" stroke-width="0.1"/>
</svg>
</body></html>
